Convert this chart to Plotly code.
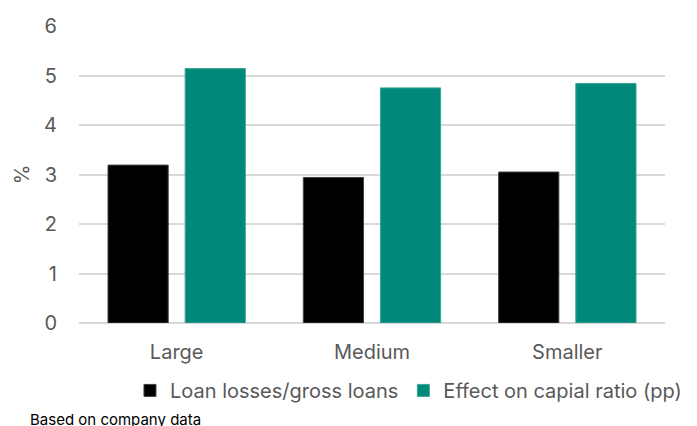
import plotly.graph_objects as go

categories = ["Large", "Medium", "Smaller"]
loan_losses = [3.19, 2.94, 3.05]
capital_effect = [5.14, 4.75, 4.84]
series_names = ["Loan losses/gross loans", "Effect on capial ratio (pp)"]
y_ticks = [0, 1, 2, 3, 4, 5, 6]

FONT = "Inter, Liberation Sans, sans-serif"
GREY = "#595959"

fig = go.Figure()
fig.add_trace(go.Bar(
    x=categories, y=loan_losses, name=series_names[0],
    marker=dict(color="#000000", line=dict(color="#404040", width=1)),
))
fig.add_trace(go.Bar(
    x=categories, y=capital_effect, name=series_names[1],
    marker=dict(color="#00897B", line=dict(color="#3aa596", width=1)),
))

fig.update_layout(
    width=697, height=426,
    margin=dict(l=71, r=40, t=18, b=111, autoexpand=False),
    paper_bgcolor="white", plot_bgcolor="white",
    barmode="group", bargap=0.21, bargroupgap=0.22,
    font=dict(family=FONT, size=20, color=GREY),
    showlegend=True,
    legend=dict(
        orientation="h", x=0.087, xanchor="left", y=-0.227, yanchor="middle",
        font=dict(family=FONT, size=20, color=GREY),
        itemwidth=30, tracegroupgap=0,
    ),
    annotations=[dict(
        text="Based on company data", xref="paper", yref="paper",
        x=-0.087, y=-0.325, xanchor="left", yanchor="middle", showarrow=False,
        font=dict(family=FONT, size=15, color="#000000"),
    )],
)
fig.update_xaxes(
    showline=False, ticks="", ticklabelstandoff=15, tickfont=dict(size=20, color=GREY),
)
fig.update_yaxes(
    range=[0, 6], tickvals=y_ticks, showgrid=True, gridcolor="#D9D9D9", gridwidth=2,
    zeroline=True, zerolinecolor="#D9D9D9", zerolinewidth=2,
    ticks="", ticklabelstandoff=21,
    tickfont=dict(size=20, color=GREY),
    title=dict(text="%", font=dict(size=20, color=GREY), standoff=9),
)

fig.write_html("out.html")
